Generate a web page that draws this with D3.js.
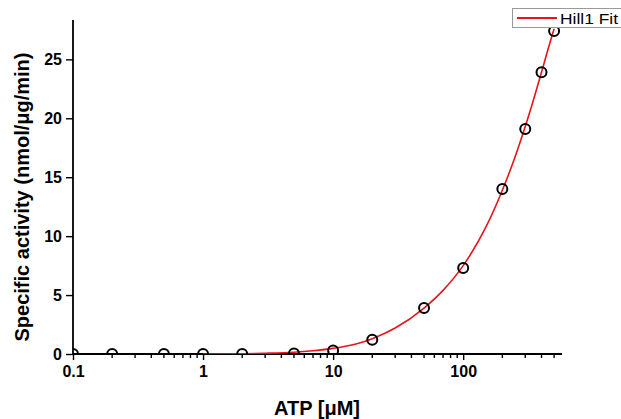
<!DOCTYPE html>
<html>
<head>
<meta charset="utf-8">
<script src="https://cdn.jsdelivr.net/npm/d3@7"></script>
<style>
  body { margin: 0; background: #fff; }
  svg { display: block; font-family: "Liberation Sans", Arial, sans-serif; }
</style>
</head>
<body>
<script>
(function (d3) {
  "use strict";

  /***** Data *****/
  var atp = [0.1, 0.2, 0.5, 1, 2, 5, 10, 20, 50, 100, 200, 300, 400, 500];
  var activity = [0, 0, 0, 0, 0, 0.05, 0.3, 1.2, 3.9, 7.3, 14.0, 19.1, 23.9, 27.4];

  // fitted curve
  var fitX = [1, 2, 3, 5, 7, 10, 15, 20, 30, 50, 70, 100, 150, 200, 250, 300, 350, 400, 450, 500];
  var fitY = [0, 0.02, 0.06, 0.15, 0.28, 0.48, 0.85, 1.3, 2.2, 3.9, 5.4, 7.5, 10.8, 13.9, 16.7, 19.3, 21.7, 23.9, 25.9, 27.6];

  var yTicks = [0, 5, 10, 15, 20, 25];
  var xMajor = [0.1, 1, 10, 100];
  var xMinor = [0.2, 0.3, 0.4, 0.5, 0.6, 0.7, 0.8, 0.9, 2, 3, 4, 5, 6, 7, 8, 9,
                20, 30, 40, 50, 60, 70, 80, 90, 200, 300, 400, 500];

  /***** Configuration *****/
  var W = 621, H = 419;
  var left = 73, right = 562, top = 24, bottom = 354;

  var x = d3.scaleLog().domain([0.1, 575]).range([left, right]);
  var y = d3.scaleLinear().domain([0, 28]).range([bottom, top]);

  var svg = d3.select("body").append("svg")
    .attr("width", W)
    .attr("height", H);

  svg.append("defs").append("clipPath").attr("id", "plot")
    .append("rect")
    .attr("x", left).attr("y", 0)
    .attr("width", right - left + 10).attr("height", bottom);

  /***** Axes *****/
  var xAxis = svg.append("g")
    .attr("transform", "translate(0," + bottom + ")")
    .call(d3.axisBottom(x).tickValues(xMajor).tickSize(6).tickSizeOuter(0)
      .tickFormat(function (d) { return d < 1 ? "0.1" : d3.format("d")(d); }));

  svg.append("g")
    .attr("transform", "translate(0," + bottom + ")")
    .selectAll("line").data(xMinor).join("line")
    .attr("x1", function (d) { return x(d); })
    .attr("x2", function (d) { return x(d); })
    .attr("y1", 0).attr("y2", 4)
    .attr("stroke", "#000").attr("stroke-width", 1.4);

  var yAxis = svg.append("g")
    .attr("transform", "translate(" + left + ",0)")
    .call(d3.axisLeft(y).tickValues(yTicks).tickSize(7).tickSizeOuter(0));

  [xAxis, yAxis].forEach(function (g) {
    g.select(".domain").attr("stroke", "#000").attr("stroke-width", 1.8);
    g.selectAll(".tick line").attr("stroke", "#000").attr("stroke-width", 1.4);
    g.selectAll(".tick text")
      .attr("fill", "#000")
      .style("font-size", "16px")
      .style("font-weight", "bold")
      .style("font-family", "'Liberation Sans', Arial, sans-serif");
  });
  xAxis.selectAll(".tick text").attr("y", 9).attr("dy", "0.9em");
  yAxis.selectAll(".tick text").attr("x", -11);
  yAxis.select(".domain").attr("d", "M0," + bottom + "V" + (top - 4));
  xAxis.select(".domain").attr("d", "M" + left + ",0H" + right);

  /***** Labels *****/
  svg.append("text")
    .attr("x", 317).attr("y", 415)
    .attr("text-anchor", "middle")
    .style("font-size", "20px").style("font-weight", "bold")
    .text("ATP [\u03bcM]");

  svg.append("text")
    .attr("transform", "translate(29,197) rotate(-90)")
    .attr("text-anchor", "middle")
    .style("font-size", "20px").style("font-weight", "bold")
    .text("Specific activity (nmol/\u03bcg/min)");

  /***** Marks *****/
  var plot = svg.append("g").attr("clip-path", "url(#plot)");

  var fit = fitX.map(function (d, i) { return [d, fitY[i]]; });
  plot.append("path")
    .datum(fit)
    .attr("fill", "none")
    .attr("stroke", "#e8141b")
    .attr("stroke-width", 1.6)
    .attr("d", d3.line()
      .x(function (d) { return x(d[0]); })
      .y(function (d) { return y(d[1]); })
      .curve(d3.curveMonotoneX));

  plot.selectAll("circle")
    .data(atp)
    .join("circle")
    .attr("cx", function (d) { return x(d); })
    .attr("cy", function (d, i) { return y(activity[i]); })
    .attr("r", 5)
    .attr("fill", "none")
    .attr("stroke", "#000")
    .attr("stroke-width", 2);

  /***** Legend *****/
  var legend = svg.append("g");
  legend.append("rect")
    .attr("x", 512.5).attr("y", 8.5)
    .attr("width", 120).attr("height", 19)
    .attr("fill", "#fff")
    .attr("stroke", "#999").attr("stroke-width", 1);
  legend.append("line")
    .attr("x1", 517).attr("x2", 557)
    .attr("y1", 18).attr("y2", 18)
    .attr("stroke", "#e8141b").attr("stroke-width", 2);
  legend.append("text")
    .attr("x", 560).attr("y", 23.5)
    .attr("textLength", 58)
    .attr("lengthAdjust", "spacingAndGlyphs")
    .style("font-size", "15px")
    .text("Hill1 Fit");

})(d3);
</script>
</body>
</html>
